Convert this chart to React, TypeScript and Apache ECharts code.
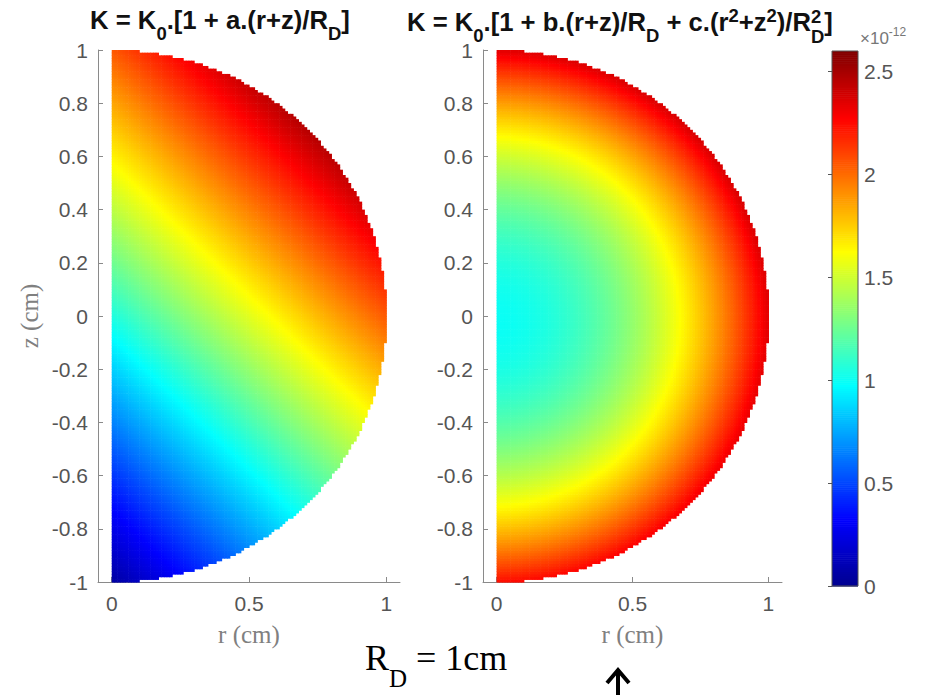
import React, { useEffect, useRef } from "react";
import * as echarts from "echarts";

// ---- axis ticks / ranges ----
const R_TICKS = [0, 0.5, 1];
const Z_TICKS = [-1, -0.8, -0.6, -0.4, -0.2, 0, 0.2, 0.4, 0.6, 0.8, 1];
const CBAR_TICKS = [0, 0.5, 1, 1.5, 2, 2.5];
const CBAR_MIN = 0;
const CBAR_MAX = 2.6;
const CBAR_EXPONENT = "-12";

// ---- model coefficients (K in units of 1e-12) ----
const R_D = 1; // cm
const LEFT_K0 = 1.05;
const LEFT_A = 0.95;
const RIGHT_K0 = 1.0;
const RIGHT_B = 0.05;
const RIGHT_C = 1.3;

// MATLAB "jet" colormap stops
const JET = ["#00008f", "#0000ff", "#0080ff", "#00ffff", "#80ff80", "#ffff00", "#ff8000", "#ff0000", "#800000"];

// sampling grid of the half-disc domain
const CELL = 0.01;
const NR = Math.round(1 / CELL);
const NZ = Math.round(2 / CELL);
const CBAR_STEP = 0.01;

function buildField(fn: (r: number, z: number) => number) {
  const out: number[][] = [];
  for (let i = 0; i < NR; i++) {
    const r = (i + 0.5) * CELL;
    for (let j = 0; j < NZ; j++) {
      const z = -1 + (j + 0.5) * CELL;
      if (r * r + z * z <= R_D * R_D) out.push([r, z, fn(r, z)]);
    }
  }
  return out;
}

const leftData = buildField((r, z) => LEFT_K0 * (1 + (LEFT_A * (r + z)) / R_D));
const rightData = buildField(
  (r, z) => RIGHT_K0 * (1 + (RIGHT_B * (r + z)) / R_D + (RIGHT_C * (r * r + z * z)) / (R_D * R_D))
);
const cbarData: number[][] = [];
for (let k = 0; k < Math.round((CBAR_MAX - CBAR_MIN) / CBAR_STEP); k++) {
  const v = CBAR_MIN + (k + 0.5) * CBAR_STEP;
  cbarData.push([0.5, v, v]);
}

type Seg = { t: string; size: number; dy?: number; family: string; weight?: string; color: string; stackNext?: boolean };

let measureCtx: CanvasRenderingContext2D | null = null;
function measure(t: string, size: number, family: string, weight = "normal") {
  if (!measureCtx) measureCtx = document.createElement("canvas").getContext("2d");
  measureCtx!.font = `${weight} ${size}px ${family}`;
  return measureCtx!.measureText(t).width;
}

function segsWidth(segs: Seg[]) {
  let x = 0;
  let pending = 0;
  for (const s of segs) {
    const w = measure(s.t, s.size, s.family, s.weight);
    if (s.stackNext) {
      pending = Math.max(pending, w);
    } else {
      x += Math.max(pending, w);
      pending = 0;
    }
  }
  return x;
}

function segsToGraphics(segs: Seg[], x0: number, baseline: number) {
  const els: any[] = [];
  let x = x0;
  let pending = 0;
  for (const s of segs) {
    const w = measure(s.t, s.size, s.family, s.weight);
    els.push({
      type: "text",
      x,
      y: baseline + (s.dy || 0) - 0.345 * s.size,
      style: {
        text: s.t,
        fontSize: s.size,
        fontFamily: s.family,
        fontWeight: s.weight || "normal",
        fill: s.color,
        align: "left",
        verticalAlign: "middle",
        lineHeight: s.size,
      },
      z: 100,
    });
    if (s.stackNext) {
      pending = Math.max(pending, w);
    } else {
      x += Math.max(pending, w);
      pending = 0;
    }
  }
  return els;
}

const SANS = '"Liberation Sans", Arial, Helvetica, sans-serif';
const SERIF = '"Liberation Serif", "Times New Roman", serif';

function titleSegs(S: number, right: boolean): Seg[] {
  const b = { family: SANS, weight: "bold", color: "#111" };
  const sub = 0.72 * S;
  const segs: Seg[] = [
    { t: "K = K", size: S, ...b },
    { t: "0", size: sub, dy: 0.42 * S, ...b },
  ];
  if (!right) {
    segs.push({ t: ".[1 + a.(r+z)/R", size: S, ...b });
    segs.push({ t: "D", size: sub, dy: 0.42 * S, ...b });
    segs.push({ t: "]", size: S, ...b });
  } else {
    segs.push({ t: ".[1 + b.(r+z)/R", size: S, ...b });
    segs.push({ t: "D", size: sub, dy: 0.42 * S, ...b });
    segs.push({ t: " + c.(r", size: S, ...b });
    segs.push({ t: "2", size: sub, dy: -0.36 * S, ...b });
    segs.push({ t: "+z", size: S, ...b });
    segs.push({ t: "2", size: sub, dy: -0.36 * S, ...b });
    segs.push({ t: ")/R", size: S, ...b });
    segs.push({ t: "2", size: sub, dy: -0.3 * S, stackNext: true, ...b });
    segs.push({ t: "D", size: sub, dy: 0.46 * S, ...b });
    segs.push({ t: "]", size: S, ...b });
  }
  return segs;
}

function fittedTitle(right: boolean, x0: number, x1: number, baseline: number) {
  const base = 24;
  const w = segsWidth(titleSegs(base, right));
  const S = (base * (x1 - x0)) / w;
  return segsToGraphics(titleSegs(S, right), x0, baseline);
}

const renderCell = (params: any, api: any) => {
  const r = api.value(0);
  const z = api.value(1);
  const p0 = api.coord([r - CELL / 2, z + CELL / 2]);
  const p1 = api.coord([r + CELL / 2, z - CELL / 2]);
  return {
    type: "rect",
    shape: { x: p0[0], y: p0[1], width: p1[0] - p0[0] + 0.6, height: p1[1] - p0[1] + 0.6 },
    style: { fill: api.visual("color") },
  };
};

const renderCbar = (params: any, api: any) => {
  const v = api.value(1);
  const p0 = api.coord([0, v + CBAR_STEP / 2]);
  const p1 = api.coord([1, v - CBAR_STEP / 2]);
  return {
    type: "rect",
    shape: { x: p0[0], y: p0[1], width: p1[0] - p0[0], height: p1[1] - p0[1] + 0.6 },
    style: { fill: api.visual("color") },
  };
};

const AXIS_COLOR = "#8a8a8a";
const LABEL_COLOR = "#555";

function xAxisFor(idx: number) {
  return {
    type: "value",
    gridIndex: idx,
    min: -0.05,
    max: 1.05,
    axisLine: { show: true, onZero: false, lineStyle: { color: AXIS_COLOR, width: 1 } },
    axisTick: { show: true, inside: true, length: 5, customValues: R_TICKS, lineStyle: { color: AXIS_COLOR } },
    axisLabel: { customValues: R_TICKS, color: LABEL_COLOR, fontSize: 21, fontFamily: SANS, margin: 11 },
    splitLine: { show: false },
    name: "r (cm)",
    nameLocation: "middle",
    nameGap: 40,
    nameTextStyle: { fontFamily: SERIF, fontSize: 25, color: "#808080" },
  };
}

function yAxisFor(idx: number, withName: boolean) {
  return {
    type: "value",
    gridIndex: idx,
    min: -1,
    max: 1,
    interval: 0.2,
    axisLine: { show: true, onZero: false, lineStyle: { color: AXIS_COLOR, width: 1 } },
    axisTick: { show: true, inside: true, length: 5, customValues: Z_TICKS, lineStyle: { color: AXIS_COLOR } },
    axisLabel: { customValues: Z_TICKS, color: LABEL_COLOR, fontSize: 21, fontFamily: SANS, margin: 10 },
    splitLine: { show: false },
    name: withName ? "z (cm)" : "",
    nameLocation: "middle",
    nameGap: 56,
    nameTextStyle: { fontFamily: SERIF, fontSize: 25, color: "#808080" },
  };
}

export default function App() {
  const ref = useRef<HTMLDivElement>(null);
  useEffect(() => {
    if (!ref.current) return;
    const chart = echarts.init(ref.current, undefined, { renderer: "svg" });

    const graphics: any[] = [
      ...fittedTitle(false, 90, 350, 29),
      ...fittedTitle(true, 407, 833, 31),
      ...segsToGraphics(
        [
          { t: "×10", size: 17, family: SANS, color: "#777" },
          { t: CBAR_EXPONENT, size: 12, dy: -8, family: SANS, color: "#777" },
        ],
        860,
        44
      ),
      ...segsToGraphics(
        [
          { t: "R", size: 36, family: SERIF, color: "#000" },
          { t: "D", size: 25, dy: 17, family: SERIF, color: "#000" },
          { t: " = 1cm", size: 36, family: SERIF, color: "#000" },
        ],
        365,
        670
      ),
      {
        type: "rect",
        shape: { x: 832, y: 51, width: 26, height: 535 },
        style: { fill: "none", stroke: "#555", lineWidth: 1 },
        z: 100,
      },
      {
        type: "line",
        shape: { x1: 618, y1: 670, x2: 618, y2: 700 },
        style: { stroke: "#000", lineWidth: 4 },
        z: 100,
      },
      {
        type: "polyline",
        shape: { points: [[607, 683], [618, 670], [629, 683]] },
        style: { stroke: "#000", lineWidth: 4, fill: "none", lineJoin: "miter" },
        z: 100,
      },
    ];

    const common = {
      type: "custom",
      encode: { x: 0, y: 1 },
      silent: true,
      progressive: 0,
      progressiveThreshold: 1e9,
    };

    chart.setOption({
      animation: false,
      backgroundColor: "#fff",
      grid: [
        { left: 98, top: 50, width: 302, height: 532 },
        { left: 483, top: 50, width: 299, height: 532 },
        { left: 832, top: 51, width: 26, height: 535 },
      ],
      xAxis: [
        xAxisFor(0),
        xAxisFor(1),
        { type: "value", gridIndex: 2, min: 0, max: 1, show: false },
      ],
      yAxis: [
        yAxisFor(0, true),
        yAxisFor(1, false),
        {
          type: "value",
          gridIndex: 2,
          position: "right",
          min: CBAR_MIN,
          max: CBAR_MAX,
          axisLine: { show: false },
          axisTick: { show: true, inside: true, length: 4, customValues: CBAR_TICKS, lineStyle: { color: "#555" } },
          axisLabel: { customValues: CBAR_TICKS, color: LABEL_COLOR, fontSize: 21, fontFamily: SANS, margin: 6 },
          splitLine: { show: false },
        },
      ],
      visualMap: {
        type: "continuous",
        show: false,
        min: CBAR_MIN,
        max: CBAR_MAX,
        dimension: 2,
        seriesIndex: [0, 1, 2],
        inRange: { color: JET },
      },
      series: [
        { ...common, xAxisIndex: 0, yAxisIndex: 0, renderItem: renderCell, data: leftData },
        { ...common, xAxisIndex: 1, yAxisIndex: 1, renderItem: renderCell, data: rightData },
        { ...common, xAxisIndex: 2, yAxisIndex: 2, renderItem: renderCbar, data: cbarData },
      ],
      graphic: graphics,
    });
    return () => chart.dispose();
  }, []);
  return (
    <div
      ref={ref}
      style={{ position: "fixed", left: 0, top: 0, width: 926, height: 695, background: "#fff" }}
    />
  );
}
